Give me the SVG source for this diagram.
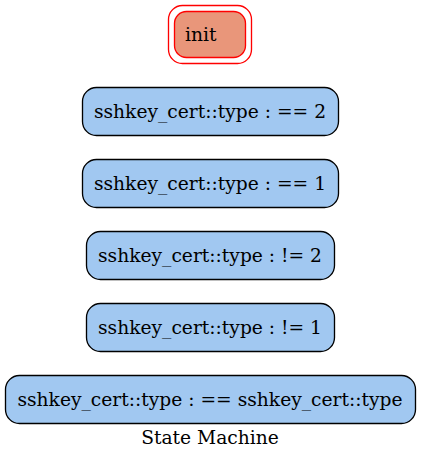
<svg xmlns="http://www.w3.org/2000/svg" width="421" height="460" viewBox="0 0 421 460">
<style>
.st rect{fill:#a1c8f1;stroke:#000;stroke-width:1.33}
text{font-family:"DejaVu Serif",serif;font-size:18.67px;fill:#000}
</style>
<rect width="421" height="460" fill="#fff"/>
<g id="init">
<rect x="168.5" y="5.5" width="83" height="58" rx="14" fill="none" stroke="#ff0000" stroke-width="1.33"/>
<rect x="174.5" y="11.5" width="71" height="46" rx="12" fill="#e9967a" stroke="#ff0000" stroke-width="1.33"/>
<text x="185" y="40.5">init</text>
</g>
<g id="n1" class="st">
<rect x="82.5" y="87.5" width="256" height="48" rx="14"/>
<text x="210" y="117.5" text-anchor="middle">sshkey_cert::type : == 2</text>
</g>
<g id="n2" class="st">
<rect x="82.5" y="159.5" width="256" height="48" rx="14"/>
<text x="210" y="189.5" text-anchor="middle">sshkey_cert::type : == 1</text>
</g>
<g id="n3" class="st">
<rect x="86.5" y="231.5" width="248" height="48" rx="14"/>
<text x="210" y="261.5" text-anchor="middle">sshkey_cert::type : != 2</text>
</g>
<g id="n4" class="st">
<rect x="86.5" y="303.5" width="248" height="48" rx="14"/>
<text x="210" y="333.5" text-anchor="middle">sshkey_cert::type : != 1</text>
</g>
<g id="n5" class="st">
<rect x="5.5" y="375.5" width="410" height="48" rx="14"/>
<text x="210" y="405.5" text-anchor="middle">sshkey_cert::type : == sshkey_cert::type</text>
</g>
<g id="connectors"></g>
<text x="210" y="443.5" text-anchor="middle">State Machine</text>
</svg>
